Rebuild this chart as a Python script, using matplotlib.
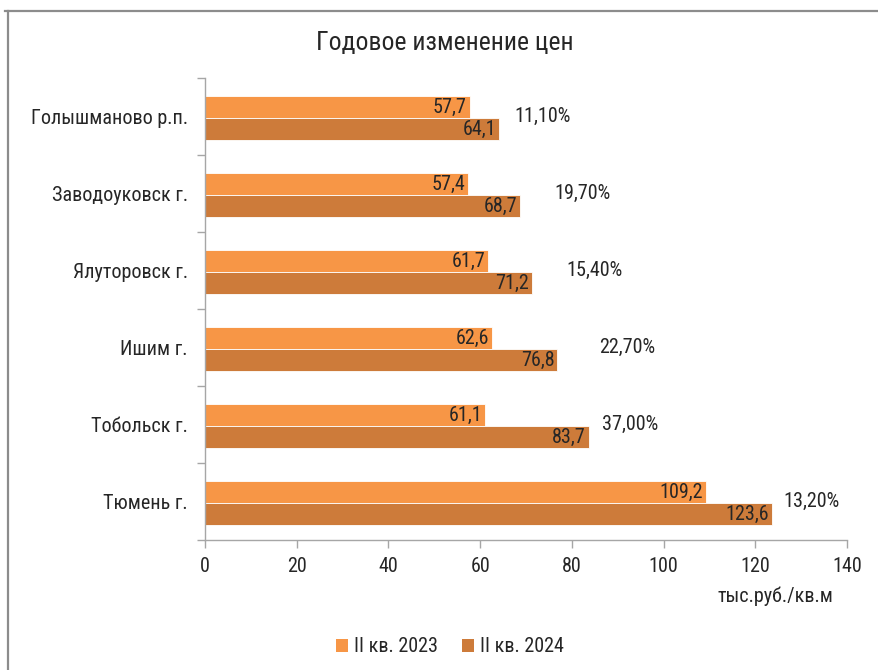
import matplotlib
matplotlib.use("Agg")
import matplotlib.pyplot as plt
from matplotlib.patches import Patch
from matplotlib.lines import Line2D
import numpy as np

plt.rcParams['font.family'] = ['Roboto Condensed', 'Roboto', 'DejaVu Sans']

categories = ["Голышманово р.п.", "Заводоуковск г.", "Ялуторовск г.",
              "Ишим г.", "Тобольск г.", "Тюмень г."]
values_2023 = [57.7, 57.4, 61.7, 62.6, 61.1, 109.2]
values_2024 = [64.1, 68.7, 71.2, 76.8, 83.7, 123.6]
pct_labels = ["11,10%", "19,70%", "15,40%", "22,70%", "37,00%", "13,20%"]
pct_label_x = [67.4, 76.1, 78.7, 85.9, 86.6, 126.1]
series_names = ["II кв. 2023", "II кв. 2024"]
x_ticks = [0, 20, 40, 60, 80, 100, 120, 140]

c1 = "#F79646"
c2 = "#CD7B3A"
txt = "#262626"
axc = "#A6A6A6"

W, H = 879, 670
fig = plt.figure(figsize=(W / 100, H / 100), dpi=100)
ax = fig.add_axes([205 / W, 1 - 540 / H, 642 / W, 462 / H])

n = len(categories)
y = np.arange(n)[::-1].astype(float)
h = 0.286
ax.barh(y + h / 2 - 0.02, values_2023, height=h, color=c1, edgecolor="white", linewidth=0.6)
ax.barh(y - h / 2 - 0.02, values_2024, height=h, color=c2, edgecolor="white", linewidth=0.6)

fs = 14.5
fn = 14.5
for yi, v1, v2, p, px in zip(y, values_2023, values_2024, pct_labels, pct_label_x):
    ax.text(v1 - 0.6, yi + h / 2 - 0.02, f"{v1:.1f}".replace(".", ","), ha="right", va="center",
            fontsize=fn, color=txt)
    ax.text(v2 - 0.6, yi - h / 2 - 0.02, f"{v2:.1f}".replace(".", ","), ha="right", va="center",
            fontsize=fn, color=txt)
    ax.text(px, yi, p, ha="left", va="center", fontsize=fn, color=txt)

ax.set_xlim(0, 140)
ax.set_ylim(-0.5, n - 0.5)
ax.set_xticks(x_ticks)
ax.set_xticklabels([str(t) for t in x_ticks], fontsize=fn, color=txt)
ax.set_yticks(y)
ax.set_yticklabels(categories, fontsize=fs, color=txt)
ax.set_yticks(np.arange(n + 1) - 0.5, minor=True)
ax.tick_params(axis="y", which="major", length=0, pad=12.5)
ax.tick_params(axis="y", which="minor", length=6, color=axc, width=1)
ax.tick_params(axis="x", which="major", length=6, color=axc, width=1, pad=6)

for s in ["top", "right"]:
    ax.spines[s].set_visible(False)
for s in ["left", "bottom"]:
    ax.spines[s].set_color(axc)
    ax.spines[s].set_linewidth(1)

fig.text(445 / W, 1 - 43 / H, "Годовое изменение цен", ha="center", va="center",
         fontsize=18.5, color=txt)
fig.text(833 / W, 1 - 596 / H, "тыс.руб./кв.м", ha="right", va="center",
         fontsize=fs, color=txt)

handles = [Patch(facecolor=c1, edgecolor="none"), Patch(facecolor=c2, edgecolor="none")]
fig.legend(handles, series_names, loc="center", bbox_to_anchor=(450 / W, 1 - 647 / H),
           ncol=2, frameon=False, fontsize=fs, handlelength=0.6, handleheight=0.6,
           handletextpad=0.3, columnspacing=1.2, labelcolor=txt)

# outer frame lines
fig.add_artist(Line2D([5 / W, 1.0], [1 - 11 / H, 1 - 11 / H], color="#8C8C8C", lw=1.6,
                      transform=fig.transFigure))
fig.add_artist(Line2D([8 / W, 8 / W], [1 - 11 / H, 0.0], color="#8C8C8C", lw=1.6,
                      transform=fig.transFigure))

fig.savefig("out.png", dpi=100)
